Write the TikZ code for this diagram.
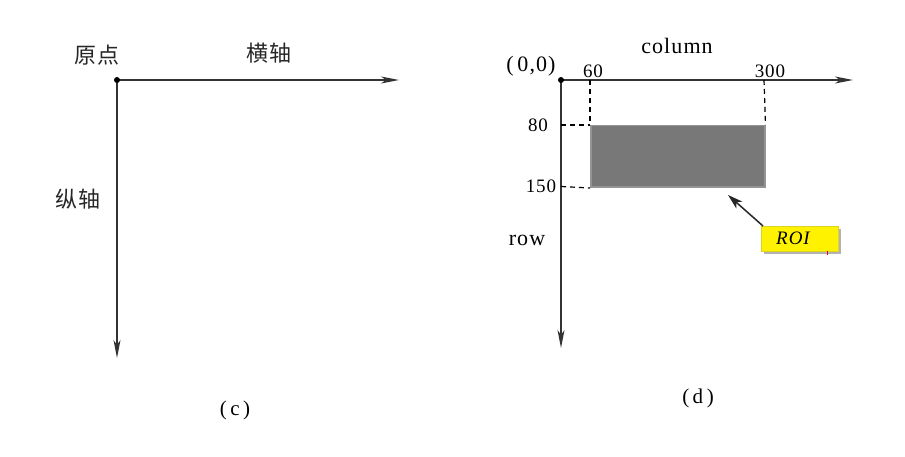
\documentclass[tikz,border=0pt]{standalone}
\usepackage{fontspec}
\setmainfont{Liberation Serif}
\newfontfamily\wideserif[LetterSpace=5]{Liberation Serif}
\newfontfamily\cjk[LetterSpace=5]{Noto Sans CJK SC}
\usetikzlibrary{arrows.meta,shadows}
\begin{document}
\begin{tikzpicture}[x=1pt,y=-1pt,
  axis/.style={draw=black!80,line width=1.3pt,-{Stealth[length=18pt,width=7pt,inset=5pt]}},
  dashln/.style={draw=black,line width=1.2pt,dash pattern=on 5pt off 4pt},
  cjklabel/.style={font=\cjk\fontsize{22}{24}\selectfont,text=black!85},
  lbl/.style={font=\wideserif\fontsize{22}{24}\selectfont},
  small/.style={font=\wideserif\fontsize{19}{21}\selectfont}]
\useasboundingbox (0,0) rectangle (905,457);
% (c)
\coordinate (o1) at (117,80);
\coordinate (x1) at (399,80);
\coordinate (y1) at (117,358);
\draw[axis] (o1) -- (x1);
\draw[axis] (o1) -- (y1);
\fill (o1) circle (3pt);
\node[cjklabel] (yd) at (97,55) {原点};
\node[cjklabel] (hz) at (269,53) {横轴};
\node[cjklabel] (zz) at (78,199) {纵轴};
\node[font=\wideserif\fontsize{21}{23}\selectfont] (c) at (235,410) {(\,c\,)};
% (d)
\coordinate (o2) at (561,80);
\coordinate (x2) at (853,80);
\coordinate (y2) at (561,348);
\draw[axis] (o2) -- (x2);
\draw[axis] (o2) -- (y2);
\fill (o2) circle (3pt);
\node[font=\wideserif\fontsize{22}{24}\selectfont] (zero) at (531,66) {(\,0,0)};
\node[lbl] (col) at (677,46) {column};
\node[small] (n60) at (593,71) {60};
\node[small] (n300) at (770,71) {300};
\node[small] (n80) at (538,125) {80};
\node[small] (n150) at (541,186.5) {150};
\node[lbl] (row) at (527,240) {row};
\node[draw=black!42,line width=1.5pt,fill=black!53,minimum width=174pt,minimum height=61.5pt,anchor=north west,inner sep=0] (roi) at (590,125) {};
\coordinate (a60) at (590,80);
\coordinate (a300) at (764,80);
\coordinate (a80) at (561,125);
\coordinate (a150) at (561,186.5);
\draw[dashln] (a60) -- (roi.north west);
\draw[dashln] (a300) -- (roi.north east);
\draw[dashln] (a80) -- (roi.north west);
\draw[dashln] (a150) -- (roi.south west);
\node[fill=yellow,draw=yellow!85!black,line width=0.3pt,drop shadow={shadow xshift=2.5pt,shadow yshift=-2.5pt,opacity=0.6,fill=black!50},minimum width=77pt,minimum height=25pt,anchor=north west,inner sep=0] (tag) at (761,226) {};
\node[font=\wideserif\fontsize{19}{21}\selectfont\itshape] (roitxt) at (793,238) {ROI};
\coordinate (tip) at (728,195);
\draw[line width=1.5pt,-{Stealth[length=15pt,width=9pt,inset=4pt]},black!85] (tag.north west) ++(2,0) -- (tip);
\draw[red,line width=1pt] (827,251) -- (827,255);
\node[font=\wideserif\fontsize{21}{23}\selectfont] (d) at (698,398) {(\,d\,)};
\end{tikzpicture}
\end{document}
